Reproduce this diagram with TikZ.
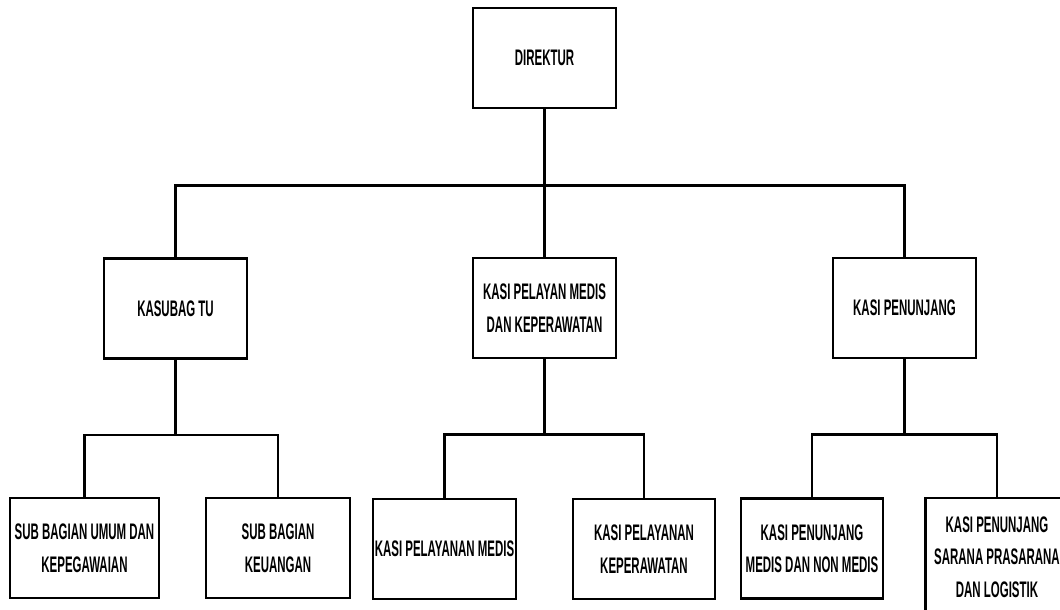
\documentclass[tikz,border=0pt]{standalone}
\usepackage{fontspec}
\setmainfont{Liberation Sans}[FakeStretch=0.51]
\usetikzlibrary{positioning}

\begin{document}
\begin{tikzpicture}[x=1pt, y=-1pt,
    unit/.style={draw, line width=2.8pt, minimum width=143pt, minimum height=100pt,
        inner sep=0pt, align=center, font=\fontsize{22.5}{32.5}\selectfont\bfseries},
    link/.style={line width=2.4pt}]
\useasboundingbox (0,0) rectangle (1060,610);
\clip (0,0) rectangle (1060,610);
% top
\node[unit] (dir) at (544.5, 58) {DIREKTUR};
% second level
\node[unit] (kasubag) at (175.5, 308.5) {KASUBAG TU};
\node[unit] (kasipm) at (544.5, 308) {KASI PELAYAN MEDIS\\DAN KEPERAWATAN};
\node[unit] (kasipj) at (904.5, 308) {KASI PENUNJANG};
% third level
\node[unit, minimum width=149pt] (subumum) at (84.5, 548) {SUB BAGIAN UMUM DAN\\KEPEGAWAIAN};
\node[unit, minimum width=144pt] (subkeu) at (278, 548) {SUB BAGIAN\\KEUANGAN};
\node[unit] (kpmedis) at (444.5, 549) {KASI PELAYANAN MEDIS};
\node[unit, minimum width=142pt] (kpkep) at (644, 549) {KASI PELAYANAN\\KEPERAWATAN};
\node[unit, minimum width=142pt] (kpjmedis) at (812, 548.5) {KASI PENUNJANG\\MEDIS DAN NON MEDIS};
\node[unit, minimum height=118pt] (kpjsarana) at (997, 557) {KASI PENUNJANG\\SARANA PRASARANA\\DAN LOGISTIK};
% connectors
\draw[link] (dir.south) -- ++(0,76) coordinate (bus);
\draw[link] (kasubag.north) |- (bus) -| (kasipj.north);
\draw[link] (bus) -- (kasipm.north);
\draw[link] (kasubag.south) -- ++(0,75) coordinate (busa);
\draw[link] (subumum.north) |- (busa) -| (subkeu.north);
\draw[link] (kasipm.south) -- ++(0,75) coordinate (busb);
\draw[link] (kpmedis.north) |- (busb) -| (kpkep.north);
\draw[link] (kasipj.south) -- ++(0,75) coordinate (busc);
\draw[link] (kpjmedis.north) |- (busc) -| (kpjsarana.north);
\end{tikzpicture}
\end{document}
